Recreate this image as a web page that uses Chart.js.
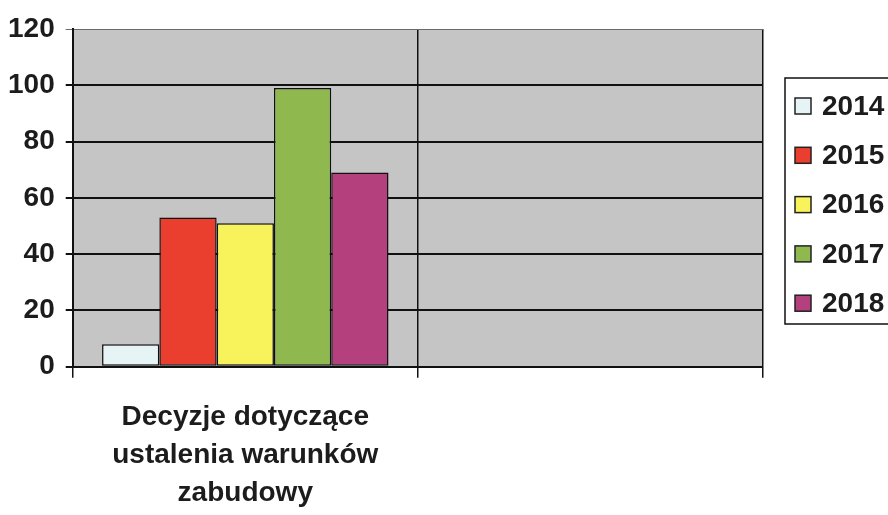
<!DOCTYPE html>
<html>
<head>
<meta charset="utf-8">
<script src="https://cdn.jsdelivr.net/npm/chart.js@4"></script>
<style>
    body { margin: 0; background: #fff; }
    #wrap { width: 888px; height: 515px; }
</style>
</head>
<body>
<div id="wrap"><canvas id="decyzje"></canvas></div>
<script>
    // Data
    const categories = [['Decyzje dotyczące', 'ustalenia warunków', 'zabudowy'], ''];
    const years = ['2014', '2015', '2016', '2017', '2018'];
    const decyzjeWarunki = [8, 53, 51, 99, 69];
    const yTicks = [0, 20, 40, 60, 80, 100, 120];

    const colors = ['#e6f4f6', '#ea3f2e', '#f8f35a', '#8fb84e', '#b5407e'];
    const textColor = '#1c1c1c';
    const font = "'Liberation Sans', Arial, sans-serif";

    // gray plot background
    const plotBackground = {
        id: 'plotBackground',
        beforeDraw(chart) {
            const { ctx, chartArea } = chart;
            ctx.save();
            ctx.fillStyle = '#c5c5c5';
            ctx.fillRect(chartArea.left, chartArea.top, chartArea.right - chartArea.left, chartArea.bottom - chartArea.top);
            ctx.restore();
        }
    };

    // legend in a framed box on the right, cut by the page edge
    const boxedLegend = {
        id: 'boxedLegend',
        afterDraw(chart) {
            const { ctx, chartArea } = chart;
            const left = chartArea.right + 22;
            const top = 78;
            const bottom = 324;
            ctx.save();
            ctx.fillStyle = '#fff';
            ctx.fillRect(left, top, 200, bottom - top);
            ctx.strokeStyle = '#111';
            ctx.lineWidth = 1.5;
            ctx.strokeRect(left, top, 200, bottom - top);

            ctx.font = 'bold 28px ' + font;
            ctx.textBaseline = 'middle';
            chart.data.datasets.forEach((ds, i) => {
                const y = 106 + i * 49.3;
                ctx.fillStyle = ds.backgroundColor;
                ctx.fillRect(left + 10, y - 8, 16, 16);
                ctx.strokeStyle = '#222';
                ctx.lineWidth = 1.5;
                ctx.strokeRect(left + 10, y - 8, 16, 16);
                ctx.fillStyle = textColor;
                ctx.fillText(ds.label, left + 37, y + 1);
            });
            ctx.restore();
        }
    };

    const datasets = years.map((year, i) => ({
        label: year,
        data: [decyzjeWarunki[i], null],
        backgroundColor: colors[i],
        borderColor: '#111',
        borderWidth: 1.5,
        borderSkipped: false,
        barPercentage: 1.0,
        categoryPercentage: 0.83
    }));

    const ctx = document.getElementById('decyzje').getContext('2d');
    new Chart(ctx, {
        type: 'bar',
        data: { labels: categories, datasets: datasets },
        options: {
            responsive: true,
            maintainAspectRatio: false,
            animation: false,
            layout: { padding: { left: -3, right: 125, top: 29, bottom: -17 } },
            plugins: {
                legend: { display: false },
                tooltip: { enabled: false }
            },
            scales: {
                x: {
                    grid: {
                        color: '#111',
                        lineWidth: 1.5,
                        tickLength: 11
                    },
                    border: { color: '#111', width: 2 },
                    ticks: {
                        color: textColor,
                        padding: 20,
                        font: { family: font, size: 28, weight: 'bold', lineHeight: 1.36 }
                    }
                },
                y: {
                    min: 0,
                    max: 120,
                    afterBuildTicks: axis => {
                        axis.ticks = yTicks.map(v => ({ value: v }));
                    },
                    grid: {
                        color: c => c.tick && c.tick.value === 120 ? '#6a6a6a' : '#111',
                        lineWidth: c => c.tick && c.tick.value === 120 ? 1 : 2,
                        tickLength: 7
                    },
                    border: { color: '#111', width: 2 },
                    ticks: {
                        color: textColor,
                        padding: 11,
                        font: { family: font, size: 28, weight: 'bold' }
                    }
                }
            }
        },
        plugins: [plotBackground, boxedLegend]
    });
</script>
</body>
</html>
